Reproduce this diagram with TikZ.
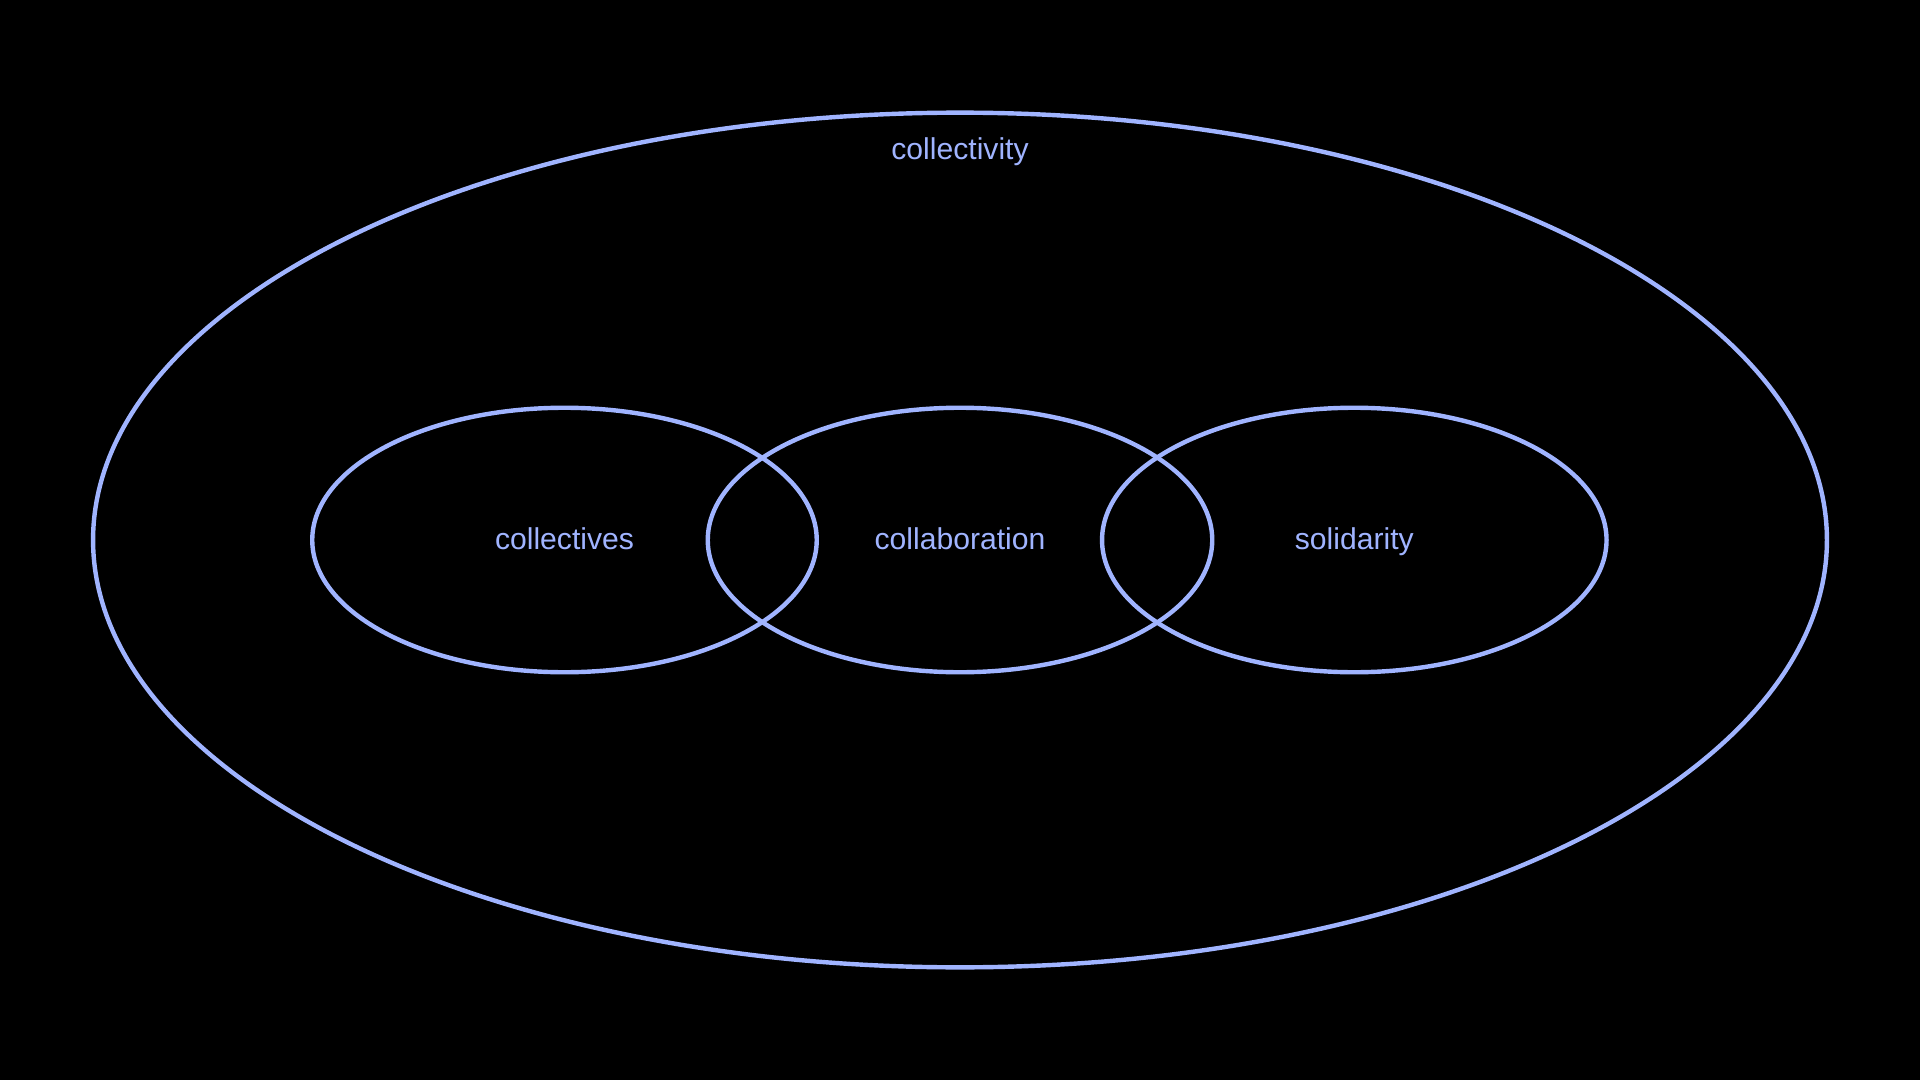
\documentclass[tikz,border=0pt]{standalone}
\usepackage{fontspec}
\setmainfont{Liberation Sans}
\definecolor{lav}{RGB}{160,180,255}
\begin{document}
\begin{tikzpicture}[x=0.5pt,y=-0.5pt,
  ring/.style={draw=lav,line width=1.8pt},
  lbl/.style={text=lav,font=\fontsize{12.3}{14}\selectfont,anchor=base}]
\fill[black] (0,0) rectangle (1568,882);
\useasboundingbox (0,0) rectangle (1568,882);
\draw[ring] (784,441) ellipse [x radius=708, y radius=349];
\draw[ring] (461,441) ellipse [x radius=206, y radius=108];
\draw[ring] (784,441) ellipse [x radius=206, y radius=108];
\draw[ring] (1106,441) ellipse [x radius=206, y radius=108];
\node[lbl] (collectivity) at (784,130) {collectivity};
\node[lbl] (collectives) at (461,449) {collectives};
\node[lbl] (collaboration) at (784,449) {collaboration};
\node[lbl] (solidarity) at (1106,449) {solidarity};
\end{tikzpicture}
\end{document}
